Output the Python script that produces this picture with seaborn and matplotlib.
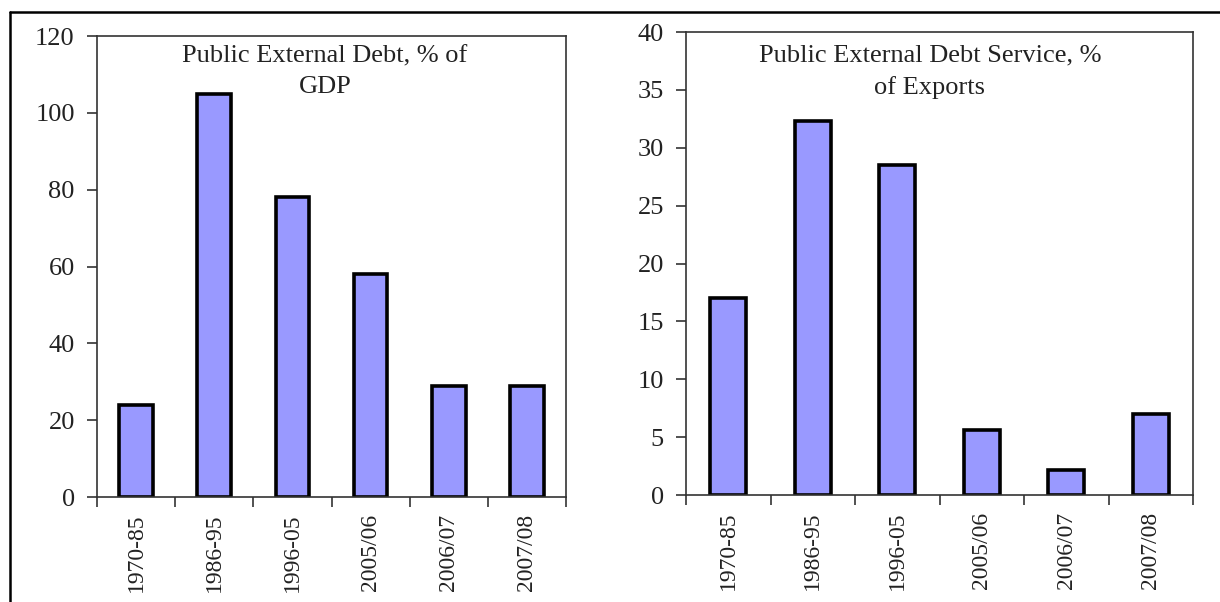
import matplotlib
matplotlib.use('Agg')
import matplotlib.pyplot as plt
import seaborn as sns
from matplotlib.lines import Line2D
from matplotlib.ticker import FixedLocator

# Дані з графіка
periods = ['1970-85', '1986-95', '1996-05', '2005/06', '2006/07', '2007/08']
debt_gdp = [24, 105, 78, 58, 29, 29]
debt_service_exports = [17, 32.3, 28.5, 5.6, 2.2, 7.0]

title_left = 'Public External Debt, % of\nGDP'
title_right = 'Public External Debt Service, %\nof Exports'

sns.set_style('white')
plt.rcParams['font.family'] = ['Liberation Serif', 'DejaVu Serif']

BAR_COLOR = '#9999FF'
TEXT_COLOR = '#222222'
FS_X = 17
FS_Y = 19
FS_TITLE = 19

fig = plt.figure(figsize=(12.2, 6.02), dpi=100)
ax_left = fig.add_axes([0.0795, 0.1744, 0.3845, 0.7656])
ax_right = fig.add_axes([0.5623, 0.1777, 0.4156, 0.7691])


def draw_panel(ax, values, title, ymax, ystep, title_x, title_y):
    sns.barplot(x=periods, y=values, color=BAR_COLOR, saturation=1,
                edgecolor='black', linewidth=2.6, width=0.43, ax=ax)
    ax.set_xlim(-0.5, len(periods) - 0.5)
    ax.set_ylim(0, ymax)
    ax.set_yticks(range(0, ymax + 1, ystep))
    ax.set_xlabel('')
    ax.set_ylabel('')

    # Мітки категорій по центру, риски - на межах категорій
    ax.xaxis.set_minor_locator(FixedLocator([i - 0.5 for i in range(len(periods) + 1)]))
    ax.tick_params(axis='x', which='major', length=0, pad=12, labelsize=FS_X,
                   labelrotation=90, labelcolor=TEXT_COLOR)
    ax.tick_params(axis='x', which='minor', bottom=True, length=7, width=1.2,
                   color='#333333', direction='out')
    ax.tick_params(axis='y', left=True, length=7, width=1.2, color='#333333',
                   direction='out', pad=9, labelsize=FS_Y, labelcolor=TEXT_COLOR)

    for side in ['left', 'right', 'top', 'bottom']:
        ax.spines[side].set_visible(True)
        ax.spines[side].set_color('#333333')
        ax.spines[side].set_linewidth(1.2)

    ax.text(title_x, title_y, title, transform=ax.transAxes, ha='center',
            va='center', multialignment='center', fontsize=FS_TITLE,
            color=TEXT_COLOR, linespacing=1.5)


draw_panel(ax_left, debt_gdp, title_left, 120, 20, 0.486, 0.922)
draw_panel(ax_right, debt_service_exports, title_right, 40, 5, 0.481, 0.914)

# Рамка навколо малюнка (верх і ліворуч)
fig.add_artist(Line2D([10 / 1220, 1], [1 - 12 / 602, 1 - 12 / 602],
                      transform=fig.transFigure, color='black', linewidth=1.8))
fig.add_artist(Line2D([10 / 1220, 10 / 1220], [0, 1 - 12 / 602],
                      transform=fig.transFigure, color='black', linewidth=1.8))

fig.savefig('out.png', dpi=100)
plt.close(fig)
